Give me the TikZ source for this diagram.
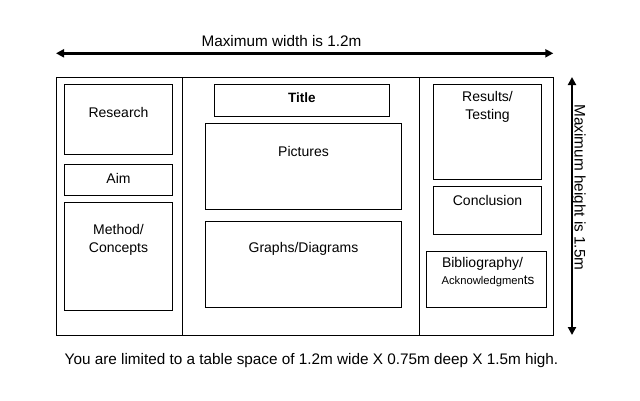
\documentclass[tikz,border=0pt]{standalone}
\usepackage{fontspec}
\setmainfont{Liberation Sans}
\usetikzlibrary{arrows.meta}
\tikzset{
  box/.style={draw=black, line width=0.9bp, minimum width=#1, inner sep=0pt, outer sep=0pt},
  lbl/.style={inner sep=0pt, font=\fontsize{14bp}{18bp}\selectfont, align=center},
  dim/.style={line width=2.6bp, {Triangle[length=8bp,width=8bp]}-{Triangle[length=8bp,width=8bp]}},
  dimtext/.style={inner sep=0pt, font=\fontsize{15.3bp}{17bp}\selectfont},
}
\begin{document}
\begin{tikzpicture}[x=1bp,y=-1bp]
\useasboundingbox (0,0) rectangle (640,400);
% board
\node[box=497bp, minimum height=258bp] (board) at (304.5,206) {};
\coordinate (d1) at (182.7,77);
\coordinate (d2) at (419,77);
\draw[line width=0.9bp] (d1) -- (d1 |- board.south);
\draw[line width=0.9bp] (d2) -- (d2 |- board.south);
% left column
\node[box=108.4bp, minimum height=70bp] (research) at (118.5,119.3) {};
\node[box=108.4bp, minimum height=31bp] (aim) at (118.5,179.8) {};
\node[box=108.4bp, minimum height=107.7bp] (method) at (118.5,256.2) {};
\node[lbl] (researchT) at (118.5,112) {Research};
\node[lbl] (aimT) at (118.5,178) {Aim};
\node[lbl] (methodT) at (118.5,240) {Method/\\Concepts};
% middle column
\node[box=175bp, minimum height=32bp] (title) at (301.8,100.3) {};
\node[box=195.6bp, minimum height=86bp] (pictures) at (303.5,166.3) {};
\node[box=195.6bp, minimum height=86bp] (graphs) at (303.5,264.3) {};
\node[lbl, font=\fontsize{13.5bp}{15bp}\selectfont\bfseries] (titleT) at (301.8,98) {Title};
\node[lbl] (picturesT) at (303.5,151) {Pictures};
\node[lbl] (graphsT) at (303.5,249) {Graphs/Diagrams};
% right column
\node[box=108.4bp, minimum height=94.7bp] (results) at (487.5,131.7) {};
\node[box=108.4bp, minimum height=47.7bp] (conclusion) at (487.5,210.2) {};
\node[box=120.4bp, minimum height=56bp] (biblio) at (486.5,279.3) {};
\node[lbl] (resultsT) at (487.5,107.2) {Results/\\Testing};
\node[lbl] (conclusionT) at (487.5,200) {Conclusion};
\node[lbl] (biblioT) at (482.5,264) {Bibliography/};
\node[lbl, font=\fontsize{11.2bp}{12bp}\selectfont] (ackT) at (488,281.7) {Acknowledgmen{\fontsize{13.5bp}{13bp}\selectfont ts}};
% dimensions
\coordinate (wl) at (56,53.3);
\coordinate (wr) at (553.3,53.3);
\draw[dim] (wl) -- (wr);
\node[dimtext] (widthT) at (281.5,41) {Maximum width is 1.2m};
\coordinate (ht) at (572,77);
\coordinate (hb) at (572,335);
\draw[dim] (ht) -- (hb);
\node[dimtext, rotate=-90] (heightT) at (578.5,187.5) {Maximum height is 1.5m};
% caption
\node[dimtext] (caption) at (311.5,361) {You are limited to a table space of 1.2m wide X 0.75m deep X 1.5m high.};
\end{tikzpicture}
\end{document}
